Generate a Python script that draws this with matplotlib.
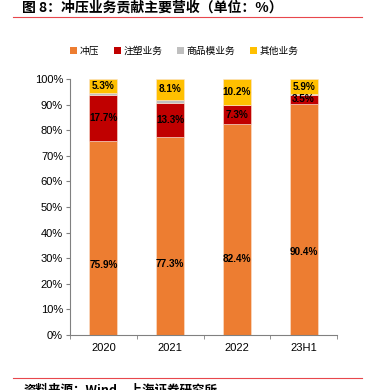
import numpy as np
import matplotlib.pyplot as plt
from matplotlib.patches import Patch
from matplotlib.lines import Line2D

plt.rcParams['font.family'] = ['Liberation Sans', 'Noto Sans CJK SC', 'DejaVu Sans']

years = ["2020", "2021", "2022", "23H1"]
stamping = [75.9, 77.3, 82.4, 90.4]
injection = [17.7, 13.3, 7.3, 3.5]
molds = [1.1, 1.3, 0.1, 0.2]
others = [5.3, 8.1, 10.2, 5.9]

series_names = ["冲压", "注塑业务", "商品模业务", "其他业务"]
colors = ["#ED7D31", "#C00000", "#BFBFBF", "#FFC000"]

fig = plt.figure(figsize=(3.69, 3.9), dpi=100)
ax = fig.add_axes([70 / 369, 1 - 335 / 390, 267 / 369, 256 / 390])

x = np.arange(len(years))
w = 0.42
bottom = np.zeros(len(years))
for vals, c in zip([stamping, injection, molds, others], colors):
    ax.bar(x, vals, w, bottom=bottom, color=c, edgecolor="#FBE3D0", linewidth=0.4)
    bottom += np.array(vals)

lab_font = dict(fontsize=7.2, fontweight="bold", color="black", ha="center", va="center")
for i in range(len(years)):
    ax.text(x[i], stamping[i] * 0.36, f"{stamping[i]:.1f}%", **lab_font)
    ax.text(x[i], stamping[i] + injection[i] / 2, f"{injection[i]:.1f}%", **lab_font)
    top0 = stamping[i] + injection[i] + molds[i]
    ax.text(x[i], top0 + others[i] / 2, f"{others[i]:.1f}%", **lab_font)

ax.set_xlim(-0.5, 3.5)
ax.set_ylim(0, 100)
ax.set_yticks(np.arange(0, 101, 10))
ax.set_yticklabels([f"{v}%" for v in range(0, 101, 10)], fontsize=8)
ax.set_xticks(x)
ax.set_xticklabels(years, fontsize=8)
ax.tick_params(axis="x", length=0, pad=6)
ax.set_xticks(np.arange(-0.5, 3.6, 1), minor=True)
ax.tick_params(axis="x", which="minor", length=3, color="#808080", direction="out")
ax.tick_params(axis="y", length=3, color="#808080", direction="out", pad=2)
for s in ["top", "right"]:
    ax.spines[s].set_visible(False)
ax.spines["left"].set_color("#808080")
ax.spines["bottom"].set_color("#808080")

handles = [Patch(facecolor=c, edgecolor="none") for c in colors]
fig.legend(handles, series_names, loc="center", bbox_to_anchor=(0.5, 1 - 51 / 390),
           ncol=4, frameon=False, handlelength=0.7, handleheight=0.7,
           handletextpad=0.3, columnspacing=1.5,
           prop={"family": ["Noto Sans CJK SC"], "size": 7})

fig.text(22 / 369, 1 - 8 / 390, "图 8：冲压业务贡献主要营收（单位：%）", fontsize=10,
         fontweight="bold", family=["Noto Sans CJK SC"], va="center", ha="left")
fig.add_artist(Line2D([13 / 369, 362 / 369], [1 - 17 / 390, 1 - 17 / 390], color="#E8474C", lw=0.8))
fig.add_artist(Line2D([13 / 369, 362 / 369], [1 - 378 / 390, 1 - 378 / 390], color="#E8474C", lw=0.8))
fig.text(24 / 369, 1 - 390 / 390, "资料来源：Wind，上海证券研究所", fontsize=9, fontweight="bold",
         style="italic", family=["Noto Sans CJK SC"], va="center", ha="left")

fig.savefig("out.png", dpi=100)
